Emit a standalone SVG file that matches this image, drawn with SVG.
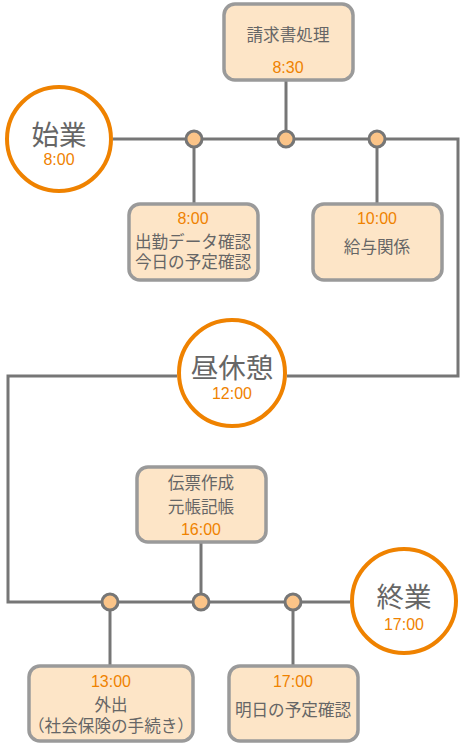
<svg xmlns="http://www.w3.org/2000/svg" width="463" height="747" viewBox="0 0 463 747">
<style>
.ln{stroke:#767676;stroke-width:3;fill:none}
.dot{fill:#fbc488;stroke:#767676;stroke-width:3}
.box{fill:#fde5c7;stroke:#9a9a9a;stroke-width:3.5}
.big{fill:#fff;stroke:#ef8200;stroke-width:4}
text{font-family:"Liberation Sans","Noto Sans CJK JP",sans-serif;text-anchor:middle;dominant-baseline:central}
.t{fill:#666;font-size:16.6px}
.o{fill:#ef8200;font-size:16px}
.bt{fill:#666;font-size:27.5px}
</style>
<rect width="463" height="747" fill="#fff"/>
<g id="connectors">
<polyline class="ln" points="113,139 458,139 458,376 287,376"/>
<polyline class="ln" points="177,376 8,376 8,602 350,602"/>
<line class="ln" x1="286" y1="81" x2="286" y2="139"/>
<line class="ln" x1="194" y1="139" x2="194" y2="204"/>
<line class="ln" x1="377" y1="139" x2="377" y2="204"/>
<line class="ln" x1="201" y1="542" x2="201" y2="602"/>
<line class="ln" x1="110" y1="602" x2="110" y2="666"/>
<line class="ln" x1="293" y1="602" x2="293" y2="666"/>
<circle class="dot" cx="194" cy="139" r="8"/>
<circle class="dot" cx="286" cy="139" r="8"/>
<circle class="dot" cx="377" cy="139" r="8"/>
<circle class="dot" cx="110" cy="602" r="8"/>
<circle class="dot" cx="201" cy="602" r="8"/>
<circle class="dot" cx="293" cy="602" r="8"/>
</g>
<g id="start">
<circle class="big" cx="59" cy="139" r="52"/>
<text class="bt" x="59" y="135">始業</text>
<text class="o" x="59" y="159">8:00</text>
</g>
<g id="invoice">
<rect class="box" x="224" y="4" width="129" height="76" rx="11"/>
<text class="t" x="288" y="35">請求書処理</text>
<text class="o" x="288" y="67">8:30</text>
</g>
<g id="attendance">
<rect class="box" x="129" y="204" width="129" height="76" rx="11"/>
<text class="o" x="193" y="218">8:00</text>
<text class="t" x="193" y="242">出勤データ確認</text>
<text class="t" x="193" y="262">今日の予定確認</text>
</g>
<g id="salary">
<rect class="box" x="313" y="204" width="129" height="76" rx="11"/>
<text class="o" x="377" y="218">10:00</text>
<text class="t" x="377" y="247">給与関係</text>
</g>
<g id="lunch">
<circle class="big" cx="232" cy="373" r="53"/>
<text class="bt" x="232" y="368">昼休憩</text>
<text class="o" x="232" y="393">12:00</text>
</g>
<g id="slip">
<rect class="box" x="137" y="467" width="129" height="75" rx="11"/>
<text class="t" x="201" y="483">伝票作成</text>
<text class="t" x="201" y="507">元帳記帳</text>
<text class="o" x="201" y="529">16:00</text>
</g>
<g id="end">
<circle class="big" cx="404" cy="601" r="52"/>
<text class="bt" x="404" y="597">終業</text>
<text class="o" x="404" y="624">17:00</text>
</g>
<g id="out">
<rect class="box" x="29" y="666" width="164" height="75" rx="11"/>
<text class="o" x="111" y="681">13:00</text>
<text class="t" x="111" y="705">外出</text>
<text class="t" x="111" y="726">（社会保険の手続き）</text>
</g>
<g id="tomorrow">
<rect class="box" x="229" y="666" width="129" height="75" rx="11"/>
<text class="o" x="293" y="681">17:00</text>
<text class="t" x="293" y="710">明日の予定確認</text>
</g>
</svg>
